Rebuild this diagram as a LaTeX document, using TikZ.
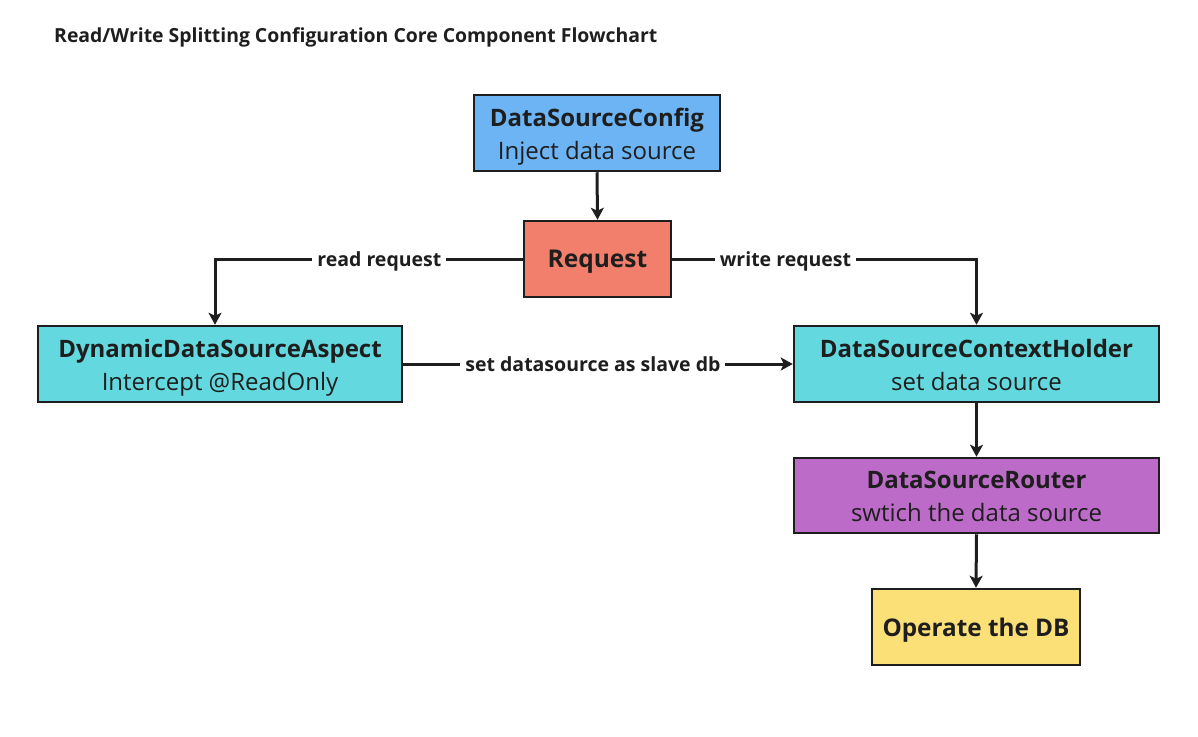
\documentclass[tikz,border=0pt]{standalone}
\usepackage{fontspec}
\setmainfont{Open Sans}
\usetikzlibrary{arrows.meta}
\definecolor{cfgblue}{HTML}{6DB4F4}
\definecolor{reqred}{HTML}{F27F6B}
\definecolor{cyanbox}{HTML}{63D9DF}
\definecolor{purplebox}{HTML}{BD6BC8}
\definecolor{yellowbox}{HTML}{FBDF77}
\definecolor{ink}{HTML}{1E1E1E}
\tikzset{
  box/.style={draw=ink, line width=2.5pt, rectangle, inner sep=0pt, align=center,
    text=ink, font=\fontsize{24}{33.3}\selectfont, minimum height=76pt,
    text height=52.6pt, text depth=0pt},
  onebox/.style={box, text height=18pt, text depth=0pt},
  conn/.style={draw=ink, line width=3pt, -{Stealth[length=12pt,width=13pt,inset=3pt]}},
  lbl/.style={fill=white, text=ink, inner xsep=5pt, inner ysep=2pt,
    text height=15pt, text depth=0pt, font=\bfseries\fontsize{19.5}{22}\selectfont},
}
\begin{document}
\begin{tikzpicture}[x=1pt,y=-1pt]
\useasboundingbox (0,0) rectangle (1198,736);
\node[anchor=west, inner sep=0pt, text=ink, font=\bfseries\fontsize{19.4}{22}\selectfont] (title) at (54,37) {Read/Write Splitting Configuration Core Component Flowchart};
\node[box, fill=cfgblue, minimum width=246pt] (cfg) at (597,133) {\textbf{DataSourceConfig}\\Inject data source};
\node[onebox, fill=reqred, minimum width=147pt, text height=17.4pt, font=\bfseries\fontsize{24.5}{32}\selectfont] (req) at (597.5,259) {Request};
\node[box, fill=cyanbox, minimum width=364pt] (asp) at (220,364) {\textbf{DynamicDataSourceAspect}\\Intercept @ReadOnly};
\node[box, fill=cyanbox, minimum width=365pt] (ctx) at (976.5,364) {\textbf{DataSourceContextHolder}\\set data source};
\node[box, fill=purplebox, minimum width=365pt, minimum height=75pt] (rtr) at (976.5,495.5) {\textbf{DataSourceRouter}\\swtich the data source};
\node[onebox, fill=yellowbox, minimum width=208pt, text height=19pt, font=\bfseries\fontsize{24.3}{32}\selectfont] (db) at (976,627) {Operate the DB};
\coordinate (aspin) at ([xshift=-5pt]asp.north);
\draw[conn] (cfg.south) -- (req.north);
\draw[conn] (req.west) -| node[lbl, pos=0.233] {read request} (aspin);
\draw[conn] (req.east) -| node[lbl, pos=0.186] {write request} (ctx.north);
\draw[conn] (asp.east) -- node[lbl, pos=0.487] {set datasource as slave db} (ctx.west);
\draw[conn] (ctx.south) -- (rtr.north);
\draw[conn] (rtr.south) -- (db.north);
\end{tikzpicture}
\end{document}
